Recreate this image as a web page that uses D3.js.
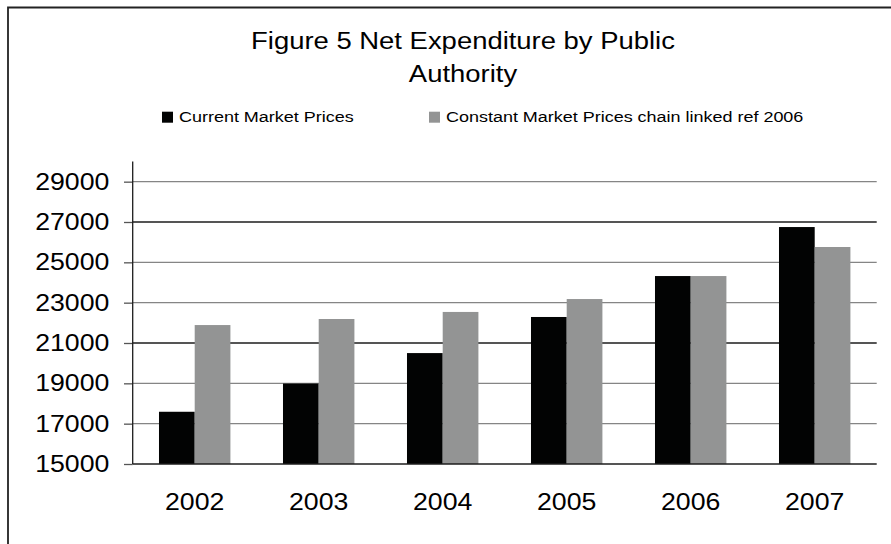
<!DOCTYPE html>
<html>
<head>
<meta charset="utf-8">
<script src="https://cdn.jsdelivr.net/npm/d3@7/dist/d3.min.js"></script>
<style>
  html, body { margin: 0; padding: 0; background: #fff; overflow: hidden; }
  svg { display: block; }
  text { font-family: "Liberation Sans", Arial, Helvetica, sans-serif; fill: #000; }
</style>
</head>
<body>
<svg id="chart" width="891" height="544"></svg>
<script>
// Net expenditure by public authority, 2002-2007
const years = ["2002", "2003", "2004", "2005", "2006", "2007"];
const seriesNames = ["Current Market Prices", "Constant Market Prices chain linked ref 2006"];
const currentPrices = [17590, 18990, 20500, 22290, 24320, 26750];
const constantPrices = [21890, 22190, 22540, 23180, 24320, 25760];
const yTicks = [15000, 17000, 19000, 21000, 23000, 25000, 27000, 29000];
const titleLines = ["Figure 5 Net Expenditure by Public", "Authority"];

const seriesColors = ["#020303", "#939494"];
const FONT = "'Liberation Sans', Arial, Helvetica, sans-serif";

const svg = d3.select("#chart");

// horizontally widen a text element around its anchor point
function widen(sel, ax, ay, k = 1.16) {
  sel.attr("transform", `translate(${ax},${ay}) scale(${k},1) translate(${-ax},${-ay})`);
}

// outer frame (open on the right and bottom)
svg.append("path")
  .attr("d", "M8,560 L8,7.5 L900,7.5")
  .attr("fill", "none").attr("stroke", "#222").attr("stroke-width", 1.8);

const plot = { left: 132.7, right: 876.7, top: 161.5, bottom: 464 };

const x = d3.scaleBand()
  .domain(years)
  .range([plot.left, plot.right])
  .paddingInner(0.424)
  .paddingOuter(0.212);

const xs = d3.scaleBand()
  .domain(seriesNames)
  .range([0, x.bandwidth()]);

const y = d3.scaleLinear()
  .domain([15000, 30000])
  .range([plot.bottom, plot.top]);

// gridlines
svg.append("g").selectAll("line")
  .data(yTicks.filter(v => v > 15000))
  .join("line")
  .attr("x1", plot.left).attr("x2", plot.right)
  .attr("y1", d => y(d)).attr("y2", d => y(d))
  .attr("stroke", d => (d === 27000 || d === 21000) ? "#1c1c1c" : "#858585")
  .attr("stroke-width", 1.3);

// bars
const rows = years.map((yr, i) => ({ year: yr, values: [currentPrices[i], constantPrices[i]] }));
const groups = svg.append("g").selectAll("g")
  .data(rows)
  .join("g")
  .attr("transform", d => `translate(${x(d.year)},0)`);

groups.selectAll("rect")
  .data(d => d.values.map((v, k) => ({ name: seriesNames[k], value: v, k })))
  .join("rect")
  .attr("x", d => xs(d.name))
  .attr("width", xs.bandwidth())
  .attr("y", d => y(d.value))
  .attr("height", d => y(15000) - y(d.value))
  .attr("fill", d => seriesColors[d.k]);

// y axis
const yAxis = d3.axisLeft(y)
  .tickValues(yTicks)
  .tickSize(8.7)
  .tickPadding(14.7)
  .tickFormat(d3.format("d"));

const yg = svg.append("g")
  .attr("transform", `translate(${plot.left},0)`)
  .call(yAxis)
  .attr("font-family", FONT);
yg.select(".domain").remove();
yg.selectAll(".tick line").attr("stroke", "#555").attr("stroke-width", 1.3);
yg.selectAll(".tick text")
  .attr("font-size", 23)
  .attr("fill", "#000")
  .each(function () { widen(d3.select(this), -23.4, 0); });

// vertical axis line
svg.append("line")
  .attr("x1", plot.left).attr("x2", plot.left)
  .attr("y1", plot.top).attr("y2", plot.bottom)
  .attr("stroke", "#1c1c1c").attr("stroke-width", 1.3);

// category axis baseline
svg.append("line")
  .attr("x1", plot.left).attr("x2", plot.right)
  .attr("y1", y(15000)).attr("y2", y(15000))
  .attr("stroke", "#1c1c1c").attr("stroke-width", 1.4);

// year labels
svg.append("g").selectAll("text")
  .data(years)
  .join("text")
  .attr("x", d => x(d) + x.bandwidth() / 2)
  .attr("y", 510)
  .attr("text-anchor", "middle")
  .attr("font-size", 23)
  .text(d => d)
  .each(function (d) { widen(d3.select(this), x(d) + x.bandwidth() / 2, 510); });

// title
const titleX = 463;
const titleY = [49.3, 82.3];
svg.append("g").selectAll("text")
  .data(titleLines)
  .join("text")
  .attr("x", titleX)
  .attr("y", (d, i) => titleY[i])
  .attr("text-anchor", "middle")
  .attr("font-size", 24.5)
  .text(d => d)
  .each(function (d, i) { widen(d3.select(this), titleX, titleY[i], 1.12); });

// legend
const legendX = [162, 429];
const legend = svg.append("g").selectAll("g")
  .data(seriesNames)
  .join("g")
  .attr("transform", (d, i) => `translate(${legendX[i]},111.7)`);
legend.append("rect")
  .attr("width", 11).attr("height", 11)
  .attr("fill", (d, i) => seriesColors[i]);
legend.append("text")
  .attr("x", 17).attr("y", 10)
  .attr("font-size", 15.5)
  .text(d => d)
  .each(function () { widen(d3.select(this), 17, 10); });
</script>
</body>
</html>
